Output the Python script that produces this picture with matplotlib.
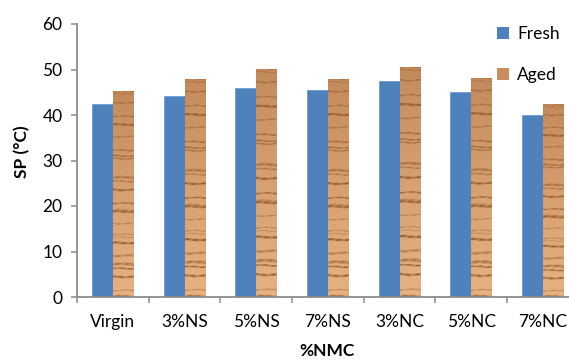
import numpy as np
import matplotlib
matplotlib.use("Agg")
import matplotlib.pyplot as plt
from matplotlib.patches import Patch

categories = ["Virgin", "3%NS", "5%NS", "7%NS", "3%NC", "5%NC", "7%NC"]
fresh = [42.4, 44.1, 45.9, 45.6, 47.5, 45.0, 39.9]
aged = [45.1, 47.9, 49.9, 47.9, 50.5, 48.1, 42.4]
series_names = ["Fresh", "Aged"]
y_ticks = [0, 10, 20, 30, 40, 50, 60]

plt.rcParams["font.family"] = ["Lato", "DejaVu Sans"]

BLUE = "#4F81BD"
WOOD = "#C98D5E"
AXIS_GREY = "#8C8C8C"
FS = 12.5


def wood_texture(h=300, w=24):
    """Light oak grain: irregular horizontal dark streaks on a tan base."""
    y = np.linspace(0, 1, h)[:, None]
    x = np.linspace(0, 1, w)[None, :]
    warp = y + 0.002 * np.sin(2 * np.pi * (0.8 * x + 7.0 * y))
    g = (np.sin(2 * np.pi * 19.0 * warp + 0.7)
         + 0.9 * np.sin(2 * np.pi * 31.0 * warp + 2.1)
         + 0.8 * np.sin(2 * np.pi * 47.0 * warp + 4.3)
         + 0.6 * np.sin(2 * np.pi * 73.0 * warp + 1.9)
         + 0.5 * np.sin(2 * np.pi * 7.0 * warp + 1.0))
    # grain gets denser towards the bottom of each plank
    thresh = 1.3 - 0.6 * y
    streak = np.clip((g - thresh) / 1.1, 0, 1) ** 0.6
    # streaks fade in and out across the width
    streak *= 0.55 + 0.45 * np.sin(2 * np.pi * (1.1 * x + 13.0 * y) + 0.5) ** 2
    top = np.array([194, 136, 90]) / 255
    bottom = np.array([230, 178, 130]) / 255
    dark = np.array([150, 92, 42]) / 255
    t = np.repeat(y, w, axis=1)[..., None] ** 0.8
    base = top * (1 - t) + bottom * t
    img = base * (1 - streak[..., None]) + dark * streak[..., None]
    return np.clip(img, 0, 1)


W, H = 569, 362
fig = plt.figure(figsize=(W / 100, H / 100), dpi=100)
ax = fig.add_axes([77 / W, 65 / H, (578.7 - 77) / W, (297 - 24) / H])

x = np.arange(len(categories))
bw = 0.293
ax.bar(x - bw / 2, fresh, width=bw, color=BLUE, edgecolor="#6F9AD0",
       linewidth=0.6, zorder=2)

tex = wood_texture()
aged_bars = ax.bar(x + bw / 2, aged, width=bw, color="none", linewidth=0,
                   zorder=2)
for rect in aged_bars:
    x0 = rect.get_x()
    ax.imshow(tex, extent=[x0, x0 + rect.get_width(), 0, rect.get_height()],
              aspect="auto", interpolation="bilinear", zorder=2)

ax.set_xlim(-0.5, len(categories) - 0.5)
ax.set_ylim(0, 60)

for side in ("top", "right"):
    ax.spines[side].set_visible(False)
for side in ("left", "bottom"):
    ax.spines[side].set_color(AXIS_GREY)
    ax.spines[side].set_linewidth(1.3)

ax.set_yticks(y_ticks)
ax.tick_params(axis="y", direction="out", length=4.5, width=1.1,
               color=AXIS_GREY, pad=6, labelsize=FS, labelcolor="black")
ax.set_xticks(np.arange(len(categories) + 1) - 0.5)
ax.set_xticklabels([])
ax.set_xticks(x, minor=True)
ax.set_xticklabels(categories, minor=True)
ax.tick_params(axis="x", which="major", direction="out", length=4.5,
               width=1.1, color=AXIS_GREY)
ax.tick_params(axis="x", which="minor", length=0, pad=12, labelsize=FS,
               labelcolor="black")

fig.text(22 / W, 1 - 152 / H, "SP (°C)", rotation=90, ha="center",
         va="center", fontsize=FS, fontweight="bold")
fig.text(327 / W, 1 - 351 / H, "%NMC", ha="center", va="center",
         fontsize=FS, fontweight="bold")

handles = [Patch(facecolor=BLUE), Patch(facecolor=WOOD)]
fig.legend(handles, series_names, loc="upper left",
           bbox_to_anchor=(497 / W, 1 - 26 / H), bbox_transform=fig.transFigure,
           frameon=False, fontsize=FS, handlelength=0.7, handleheight=0.7,
           handletextpad=0.45, labelspacing=1.45, borderaxespad=0, borderpad=0)

fig.savefig("out.png", dpi=100)
